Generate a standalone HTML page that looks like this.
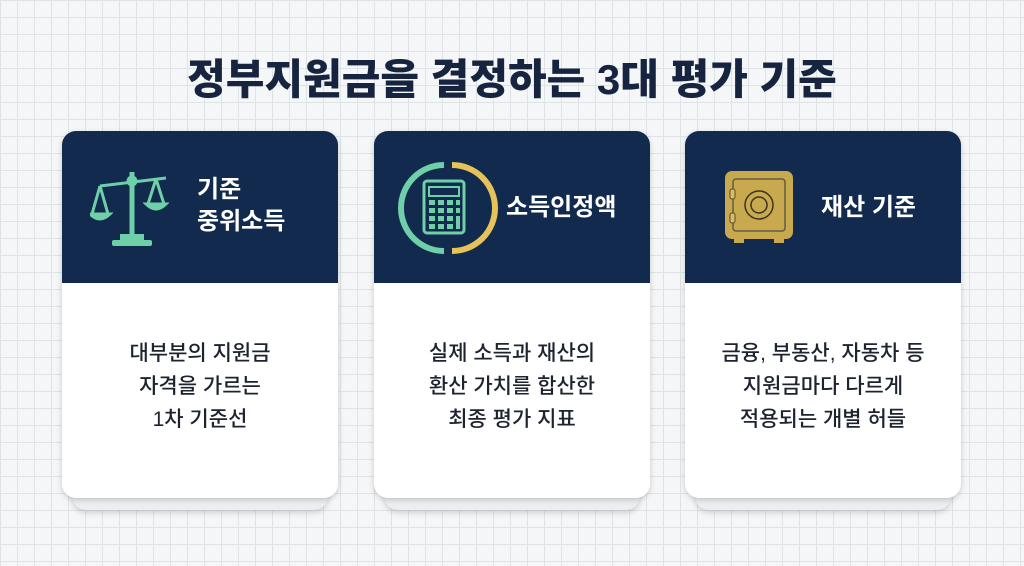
<!DOCTYPE html>
<html><head><meta charset="utf-8"><style>
body{margin:0;width:1024px;height:566px;overflow:hidden;background-color:#f4f6f7;
background-image:linear-gradient(#dfe3e6 1px,transparent 1px),linear-gradient(90deg,#dfe3e6 1px,transparent 1px);background-size:17px 17px;
font-family:"Liberation Sans","Noto Sans CJK KR",sans-serif;position:relative}
.title{position:absolute;left:0;width:1024px;top:46px;text-align:center;font-size:42px;font-weight:900;color:#16243f;letter-spacing:0px}
.card{position:absolute;top:131px;width:276px;height:367px}
.back{position:absolute;left:10px;right:10px;top:20px;bottom:-12px;background:#eceff1;border-radius:14px;box-shadow:0 3px 6px rgba(0,0,0,.15)}
.front{position:absolute;inset:0;background:#fff;border-radius:14px;overflow:hidden;box-shadow:0 2px 6px rgba(0,0,0,.18)}
.head{height:152px;background:#112a4d;position:relative}
.ht{position:absolute;color:#fff;font-weight:700;font-size:24px;line-height:32px}
.body{position:absolute;top:152px;left:0;right:0;bottom:0;display:flex;align-items:flex-start;justify-content:center;text-align:center;padding-top:54px;font-size:21px;line-height:33px;color:#1d2430;font-weight:500}
.icon{position:absolute}
</style></head><body>
<div class="title">정부지원금을 결정하는 3대 평가 기준</div>

<div class="card" style="left:62px"><div class="back"></div><div class="front">
<div class="head">
<svg class="icon" style="left:28px;top:37px" width="84" height="82" viewBox="0 0 84 82" fill="none" stroke="#6fcfa8" stroke-width="3">
<line x1="42" y1="4" x2="42" y2="70" stroke-width="5"/><line x1="10" y1="18" x2="76" y2="10"/>
<circle cx="42" cy="13" r="4" fill="#6fcfa8"/>
<path d="M10 18 L2 46 M10 18 L18 46 M66 11 L58 36 M66 11 L74 36"/>
<path d="M0 46 Q10 56 20 46 Z" fill="#6fcfa8"/><path d="M56 36 Q66 46 76 36 Z" fill="#6fcfa8"/>
<rect x="30" y="66" width="24" height="6" fill="#6fcfa8" stroke="none"/><rect x="22" y="72" width="40" height="6" rx="2" fill="#6fcfa8" stroke="none"/>
</svg>
<div class="ht" style="left:135px;top:43px">기준<br>중위소득</div>
</div>
<div class="body">대부분의 지원금<br>자격을 가르는<br>1차 기준선</div>
</div></div>

<div class="card" style="left:374px"><div class="back"></div><div class="front">
<div class="head">
<svg class="icon" style="left:24px;top:27px" width="100" height="100" viewBox="0 0 100 100" fill="none">
<path d="M46 7 A43 43 0 0 0 46 93" stroke="#6fcfa8" stroke-width="6"/>
<path d="M54 7 A43 43 0 0 1 54 93" stroke="#e6c35a" stroke-width="6"/>
<rect x="26" y="23" width="40" height="52" rx="3" stroke="#6fcfa8" stroke-width="3"/>
<rect x="31" y="29" width="30" height="9" stroke="#6fcfa8" stroke-width="2"/>
<g fill="#6fcfa8"><rect x="31" y="42" width="6" height="5"/><rect x="40" y="42" width="6" height="5"/><rect x="49" y="42" width="6" height="5"/><rect x="58" y="42" width="4" height="5"/>
<rect x="31" y="50" width="6" height="5"/><rect x="40" y="50" width="6" height="5"/><rect x="49" y="50" width="6" height="5"/><rect x="58" y="50" width="4" height="5"/>
<rect x="31" y="58" width="6" height="5"/><rect x="40" y="58" width="6" height="5"/><rect x="49" y="58" width="6" height="5"/><rect x="58" y="58" width="4" height="13"/>
<rect x="31" y="66" width="6" height="5"/><rect x="40" y="66" width="6" height="5"/><rect x="49" y="66" width="6" height="5"/></g>
</svg>
<div class="ht" style="left:132px;top:61px">소득인정액</div>
</div>
<div class="body">실제 소득과 재산의<br>환산 가치를 합산한<br>최종 평가 지표</div>
</div></div>

<div class="card" style="left:685px"><div class="back"></div><div class="front">
<div class="head">
<svg class="icon" style="left:40px;top:40px" width="70" height="76" viewBox="0 0 70 76">
<rect x="0" y="0" width="68" height="68" rx="7" fill="#c9a94e"/>
<rect x="8" y="8" width="52" height="52" rx="3" fill="none" stroke="#1b2a44" stroke-width="1.5" opacity=".6"/>
<rect x="5" y="18" width="5" height="10" rx="2" fill="#d9bd6a" stroke="#5a4a20"/><rect x="5" y="42" width="5" height="10" rx="2" fill="#d9bd6a" stroke="#5a4a20"/>
<circle cx="34" cy="34" r="14" fill="none" stroke="#3a3320" stroke-width="1.5"/><circle cx="34" cy="34" r="8" fill="none" stroke="#3a3320" stroke-width="1.5"/>
<rect x="9" y="68" width="10" height="4" fill="#c9a94e"/><rect x="49" y="68" width="10" height="4" fill="#c9a94e"/>
</svg>
<div class="ht" style="left:136px;top:61px">재산 기준</div>
</div>
<div class="body">금융, 부동산, 자동차 등<br>지원금마다 다르게<br>적용되는 개별 허들</div>
</div></div>
</body></html>
